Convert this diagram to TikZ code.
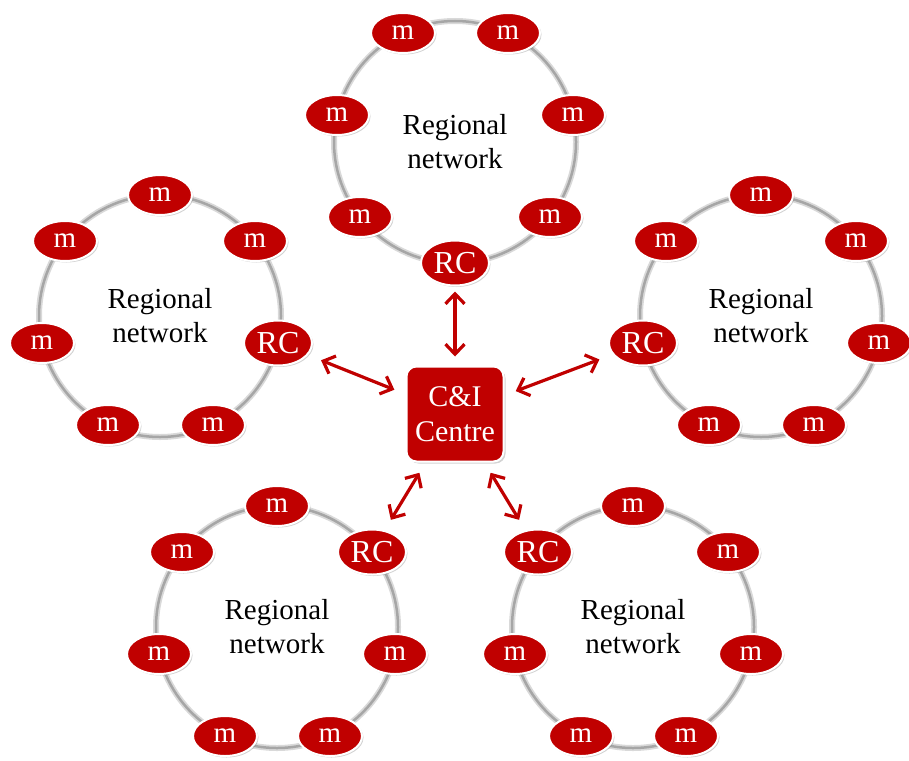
\documentclass[tikz,border=0pt]{standalone}
\usepackage{fontspec}
\setmainfont{Liberation Serif}
\usetikzlibrary{shapes.geometric,arrows.meta,shadows}
\definecolor{netred}{RGB}{192,0,0}
\begin{document}
\begin{tikzpicture}[x=1pt,y=-1pt,
  ring/.style={draw=gray!30, line width=6pt},
  ringcore/.style={draw=gray!70, line width=2.5pt},
  mnode/.style={ellipse, fill=netred, draw=white, line width=2pt, text=white,
    minimum width=64pt, minimum height=40pt, inner sep=0pt,
    font=\fontsize{29}{29}\selectfont,
    drop shadow={shadow xshift=1.5pt, shadow yshift=-1.5pt, opacity=.35}},
  rcnode/.style={mnode, minimum width=68pt, minimum height=45pt, font=\fontsize{32}{32}\selectfont},
  regtext/.style={align=center, font=\fontsize{29}{34}\selectfont},
  centrebox/.style={rectangle, rounded corners=10pt, fill=netred, draw=white, line width=2pt,
    text=white, align=center, minimum width=97pt, minimum height=95pt,
    font=\fontsize{30}{35}\selectfont,
    drop shadow={shadow xshift=2pt, shadow yshift=-2pt, opacity=.35}},
  link/.style={draw=netred, line width=3.2pt,
    {Straight Barb[length=10pt,width=19pt]}-{Straight Barb[length=10pt,width=19pt]},
    shorten <=12pt, shorten >=12pt}]
\useasboundingbox (0,0) rectangle (909,760);
% ring centres
\coordinate (cT) at (455,142);
\coordinate (cL) at (160,316);
\coordinate (cR) at (761,316);
\coordinate (cBL) at (277,627);
\coordinate (cBR) at (633,627);
% rings
\draw [ring] (cT) circle (121pt);
\draw [ring] (cL) circle (121pt);
\draw [ring] (cR) circle (121pt);
\draw [ring] (cBL) circle (121pt);
\draw [ring] (cBR) circle (121pt);
\draw [ringcore] (cT) circle (121pt);
\draw [ringcore] (cL) circle (121pt);
\draw [ringcore] (cR) circle (121pt);
\draw [ringcore] (cBL) circle (121pt);
\draw [ringcore] (cBR) circle (121pt);
\node [regtext] (txT) at (cT) {Regional\\network};
\node [regtext] (txL) at (cL) {Regional\\network};
\node [regtext] (txR) at (cR) {Regional\\network};
\node [regtext] (txBL) at (cBL) {Regional\\network};
\node [regtext] (txBR) at (cBR) {Regional\\network};
% top ring
\node [rcnode] (rcT) at (455,263) {RC};
\node [mnode] (tm1) at (550,217) {m};
\node [mnode] (tm2) at (573,115) {m};
\node [mnode] (tm3) at (508,33) {m};
\node [mnode] (tm4) at (403,33) {m};
\node [mnode] (tm5) at (337,115) {m};
\node [mnode] (tm6) at (360,217) {m};
% left ring
\node [rcnode] (rcL) at (278,343) {RC};
\node [mnode] (lm1) at (160,195) {m};
\node [mnode] (lm2) at (255,241) {m};
\node [mnode] (lm3) at (213,425) {m};
\node [mnode] (lm4) at (108,425) {m};
\node [mnode] (lm5) at (42,343) {m};
\node [mnode] (lm6) at (65,241) {m};
% right ring
\node [rcnode] (rcR) at (643,343) {RC};
\node [mnode] (rm1) at (761,195) {m};
\node [mnode] (rm2) at (856,241) {m};
\node [mnode] (rm3) at (879,343) {m};
\node [mnode] (rm4) at (814,425) {m};
\node [mnode] (rm5) at (709,425) {m};
\node [mnode] (rm6) at (666,241) {m};
% bottom left ring
\node [rcnode] (rcBL) at (372,552) {RC};
\node [mnode] (blm1) at (277,506) {m};
\node [mnode] (blm2) at (182,552) {m};
\node [mnode] (blm3) at (159,654) {m};
\node [mnode] (blm4) at (225,736) {m};
\node [mnode] (blm5) at (330,736) {m};
\node [mnode] (blm6) at (395,654) {m};
% bottom right ring
\node [rcnode] (rcBR) at (538,552) {RC};
\node [mnode] (brm1) at (633,506) {m};
\node [mnode] (brm2) at (728,552) {m};
\node [mnode] (brm3) at (751,654) {m};
\node [mnode] (brm4) at (686,736) {m};
\node [mnode] (brm5) at (581,736) {m};
\node [mnode] (brm6) at (515,654) {m};
% centre
\node [centrebox] (ci) at (455,414) {C\&I\\Centre};
\draw [link, shorten <=9pt, shorten >=5pt] (ci) -- (rcT);
\draw [link, shorten >=14pt] (ci) -- (rcL);
\draw [link, shorten >=14pt] (ci) -- (rcR);
\draw [link] (ci) -- (rcBL.60);
\draw [link] (ci) -- (rcBR.120);
\end{tikzpicture}
\end{document}
